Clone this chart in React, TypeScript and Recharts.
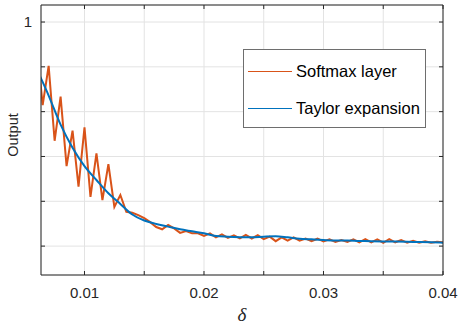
import { LineChart, Line, XAxis, YAxis, CartesianGrid, Legend } from 'recharts';

// Softmax layer output, sampled every 0.0005
const softmaxX = [
  0.006, 0.0065, 0.007, 0.0075, 0.008, 0.0085, 0.009, 0.0095, 0.01, 0.0105,
  0.011, 0.0115, 0.012, 0.0125, 0.013, 0.0135, 0.014, 0.0145, 0.015, 0.0155,
  0.016, 0.0165, 0.017, 0.0175, 0.018, 0.0185, 0.019, 0.0195, 0.02, 0.0205,
  0.021, 0.0215, 0.022, 0.0225, 0.023, 0.0235, 0.024, 0.0245, 0.025, 0.0255,
  0.026, 0.0265, 0.027, 0.0275, 0.028, 0.0285, 0.029, 0.0295, 0.03, 0.0305,
  0.031, 0.0315, 0.032, 0.0325, 0.033, 0.0335, 0.034, 0.0345, 0.035, 0.0355,
  0.036, 0.0365, 0.037, 0.0375, 0.038, 0.0385, 0.039, 0.0395, 0.04,
];
const softmaxY = [
  0.9, 0.629, 0.804, 0.47, 0.667, 0.357, 0.515, 0.265, 0.53, 0.22,
  0.414, 0.205, 0.366, 0.175, 0.228, 0.153, 0.149, 0.138, 0.125, 0.107,
  0.085, 0.075, 0.094, 0.079, 0.059, 0.067, 0.057, 0.057, 0.045, 0.057,
  0.039, 0.052, 0.037, 0.048, 0.034, 0.05, 0.034, 0.049, 0.031, 0.042,
  0.022, 0.039, 0.024, 0.039, 0.024, 0.034, 0.022, 0.033, 0.021, 0.03,
  0.019, 0.027, 0.019, 0.03, 0.017, 0.031, 0.017, 0.03, 0.015, 0.031,
  0.017, 0.027, 0.015, 0.024, 0.015, 0.022, 0.015, 0.019, 0.017,
];

// Taylor expansion, sampled every 0.001
const taylorX = [
  0.006, 0.007, 0.008, 0.009, 0.01, 0.011, 0.012, 0.013, 0.014, 0.015,
  0.016, 0.017, 0.018, 0.019, 0.02, 0.021, 0.022, 0.023, 0.024, 0.025,
  0.026, 0.027, 0.028, 0.029, 0.03, 0.031, 0.032, 0.033, 0.034, 0.035,
  0.036, 0.037, 0.038, 0.039, 0.04,
];
const taylorY = [
  0.79, 0.672, 0.542, 0.439, 0.357, 0.295, 0.236, 0.188, 0.141, 0.114,
  0.099, 0.087, 0.075, 0.066, 0.057, 0.045, 0.042, 0.04, 0.039, 0.042,
  0.044, 0.039, 0.033, 0.03, 0.027, 0.025, 0.025, 0.023, 0.022, 0.021,
  0.02, 0.019, 0.018, 0.017, 0.015,
];

const xTicks = [0.01, 0.015, 0.02, 0.025, 0.03, 0.035, 0.04];
const xLabels = ['0.01', '', '0.02', '', '0.03', '', '0.04'];
const yTicks = [0, 0.2, 0.4, 0.6, 0.8, 1];
const yLabels = ['', '', '', '', '', '1'];

const softmaxData = softmaxX.map((x, i) => ({ x, y: softmaxY[i] }));
const taylorData = taylorX.map((x, i) => ({ x, y: taylorY[i] }));

const ORANGE = '#D95319';
const BLUE = '#0072BD';
const AXIS = '#262626';
const FONT = '"Liberation Sans", Arial, Helvetica, sans-serif';

const legendItems = [
  { name: 'Softmax layer', color: ORANGE },
  { name: 'Taylor expansion', color: BLUE },
];

const renderLegend = () => (
  <div
    style={{
      position: 'relative',
      width: 181,
      height: 77,
      border: '1px solid #6e6e6e',
      background: '#fff',
      fontFamily: FONT,
      fontSize: 16.5,
      color: '#000',
    }}
  >
    {legendItems.map((item, i) => (
      <div
        key={item.name}
        style={{
          position: 'absolute',
          left: 4,
          top: i === 0 ? 10 : 47,
          height: 22,
          display: 'flex',
          alignItems: 'center',
          whiteSpace: 'nowrap',
        }}
      >
        <span style={{ display: 'inline-block', width: 44, borderTop: `1.6px solid ${item.color}` }} />
        <span style={{ marginLeft: 4 }}>{item.name}</span>
      </div>
    ))}
  </div>
);

const tickStyle = { fontFamily: FONT, fontSize: 15, fill: AXIS };

export default function App() {
  return (
    <div style={{ position: 'absolute', left: 0, top: 0, width: 464, height: 327, background: '#fff' }}>
      <LineChart width={464} height={327} margin={{ top: 4, right: 20, bottom: 0, left: 0 }}>
        <CartesianGrid stroke="#e3e3e3" strokeWidth={1} />
        <XAxis
          dataKey="x"
          type="number"
          domain={[0.00636, 0.04]}
          allowDataOverflow
          ticks={xTicks}
          tickFormatter={(v: number) => xLabels[xTicks.indexOf(v)] ?? ''}
          tick={tickStyle}
          tickSize={-4}
          tickMargin={16}
          height={52}
          stroke={AXIS}
          tickLine={{ stroke: AXIS }}
          label={{
            content: (props: any) => {
              const vb = props.viewBox;
              return (
                <text
                  x={vb.x + vb.width / 2}
                  y={321}
                  textAnchor="middle"
                  fontFamily='"Liberation Serif", "DejaVu Serif", serif'
                  fontStyle="italic"
                  fontSize={19}
                  fill={AXIS}
                >
                  δ
                </text>
              );
            },
          }}
        />
        <XAxis
          xAxisId="top"
          orientation="top"
          dataKey="x"
          type="number"
          domain={[0.00636, 0.04]}
          allowDataOverflow
          ticks={xTicks}
          tickFormatter={() => ''}
          tickSize={-4}
          height={1}
          stroke={AXIS}
        />
        <YAxis
          type="number"
          domain={[-0.129, 1.076]}
          allowDataOverflow
          ticks={yTicks}
          tickFormatter={(v: number) => yLabels[yTicks.indexOf(v)] ?? ''}
          tick={{ ...tickStyle, fontSize: 15 }}
          tickSize={-4}
          tickMargin={13}
          width={41}
          stroke={AXIS}
          label={{
            content: () => (
              <text
                x={18}
                y={135}
                transform="rotate(-90 18 135)"
                textAnchor="middle"
                fontFamily={FONT}
                fontSize={14.5}
                fill={AXIS}
              >
                Output
              </text>
            ),
          }}
        />
        <YAxis
          yAxisId="right"
          orientation="right"
          type="number"
          domain={[-0.129, 1.076]}
          allowDataOverflow
          ticks={yTicks}
          tickFormatter={() => ''}
          tickSize={-4}
          width={1}
          stroke={AXIS}
        />
        <Line
          data={softmaxData}
          dataKey="y"
          name="Softmax layer"
          stroke={ORANGE}
          strokeWidth={2}
          dot={false}
          type="linear"
          isAnimationActive={false}
        />
        <Line
          data={taylorData}
          dataKey="y"
          name="Taylor expansion"
          stroke={BLUE}
          strokeWidth={2}
          dot={false}
          type="monotone"
          isAnimationActive={false}
        />
        <Legend
          layout="vertical"
          align="center"
          verticalAlign="middle"
          content={renderLegend}
          wrapperStyle={{ left: 243, top: 49, width: 'auto', height: 'auto' }}
        />
      </LineChart>
    </div>
  );
}
